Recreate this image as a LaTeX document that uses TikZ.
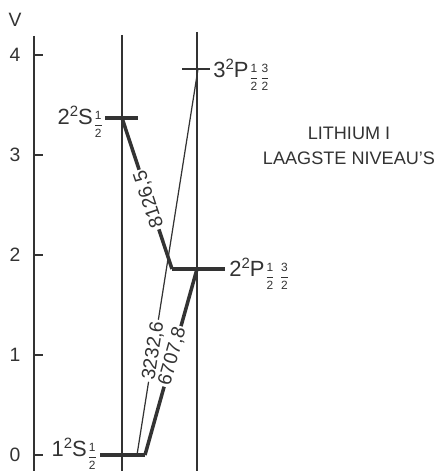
\documentclass[tikz,border=0pt]{standalone}
\usepackage{amsmath}
\usepackage{fontspec}
\setmainfont{Liberation Sans}
\usetikzlibrary{positioning}
\newcommand{\liInk}{black!80}
\newcommand{\liFrac}[2]{\raisebox{-2pt}{\fontsize{6.8}{7}\selectfont
  $\genfrac{}{}{0.4pt}{0}{\text{#1}}{\text{#2}}$}}
\newcommand{\liSup}[1]{\raisebox{4.6pt}{\fontsize{8.5}{9}\selectfont #1}}
\tikzset{
  liaxis/.style={draw=\liInk, line width=0.9pt},
  licol/.style={draw=\liInk, line width=0.7pt},
  lilev/.style={draw=\liInk, line width=1.8pt},
  lithin/.style={draw=\liInk, line width=0.7pt},
  lithick/.style={draw=\liInk, line width=2pt},
  litick/.style={font=\fontsize{11}{13}\selectfont, text=\liInk},
  lilab/.style={font=\fontsize{12.5}{14}\selectfont, text=\liInk, inner sep=0pt},
  liwave/.style={font=\fontsize{11}{13}\selectfont, text=\liInk, fill=white,
                 inner sep=1pt, sloped},
  lititle/.style={font=\fontsize{10.3}{14.2}\selectfont, text=\liInk, align=center},
}

\begin{document}
\begin{tikzpicture}[x=0.2mm, y=2cm]
  \useasboundingbox (0,-0.16) rectangle (436,4.55);
  % energy axis
  \coordinate (axtop) at (34,4.19);
  \coordinate (axbot) at (34,-0.16);
  \draw[liaxis] (axtop) -- (axbot);
  \foreach \v in {0,...,4} {
    \draw[liaxis] (34,\v) -- (43,\v);
    \node[litick] (t\v) at (15,\v) {\v};
  }
  \node[litick] (unit) at (15,4.35) {V};
  % S and P columns
  \coordinate (stop) at (122,4.20);
  \coordinate (sbot) at (122,-0.16);
  \coordinate (ptop) at (197,4.23);
  \coordinate (pbot) at (197,-0.16);
  \draw[licol] (stop) -- (sbot);
  \draw[licol] (ptop) -- (pbot);
  % levels
  \coordinate (s1a) at (100,0);    \coordinate (s1t) at (137,0);
  \coordinate (s1b) at (145,0);
  \coordinate (s2a) at (105,3.37); \coordinate (s2m) at (122,3.37);
  \coordinate (s2b) at (138,3.37);
  \coordinate (p2a) at (172,1.86); \coordinate (p2m) at (197,1.86);
  \coordinate (p2b) at (225,1.86);
  \coordinate (p3a) at (182,3.86); \coordinate (p3m) at (198,3.86);
  \coordinate (p3b) at (210,3.86);
  % transitions
  \draw[lithick] (p2a) -- node[liwave, allow upside down, pos=0.46]{8126,5} (s2m);
  \draw[lithin] (s1t) -- node[liwave, pos=0.27]{3232,6} (p3m);
  \draw[lithick] (s1b) -- node[liwave, pos=0.53]{6707,8} (p2m);
  \draw[lilev] (s1a) -- (s1b);
  \draw[lilev] (s2a) -- (s2b);
  \draw[lilev] (p2a) -- (p2b);
  \draw[lilev, line width=1.3pt] (p3a) -- (p3b);
  % level names
  \node[lilab, anchor=base east] (s1lab) at (98,-0.02)
    {1\liSup{2}S\liFrac{1}{2}};
  \node[lilab, anchor=base east] (s2lab) at (104,3.30)
    {2\liSup{2}S\liFrac{1}{2}};
  \node[lilab, anchor=base west] (p2lab) at (229,1.78)
    {2\liSup{2}P\liFrac{1}{2}\,\liFrac{3}{2}};
  \node[lilab, anchor=base west] (p3lab) at (213,3.77)
    {3\liSup{2}P\liFrac{1}{2}\liFrac{3}{2}};
  \node[lititle] (title) at (349,3.09) {LITHIUM I\\LAAGSTE NIVEAU'S};
\end{tikzpicture}
\end{document}
